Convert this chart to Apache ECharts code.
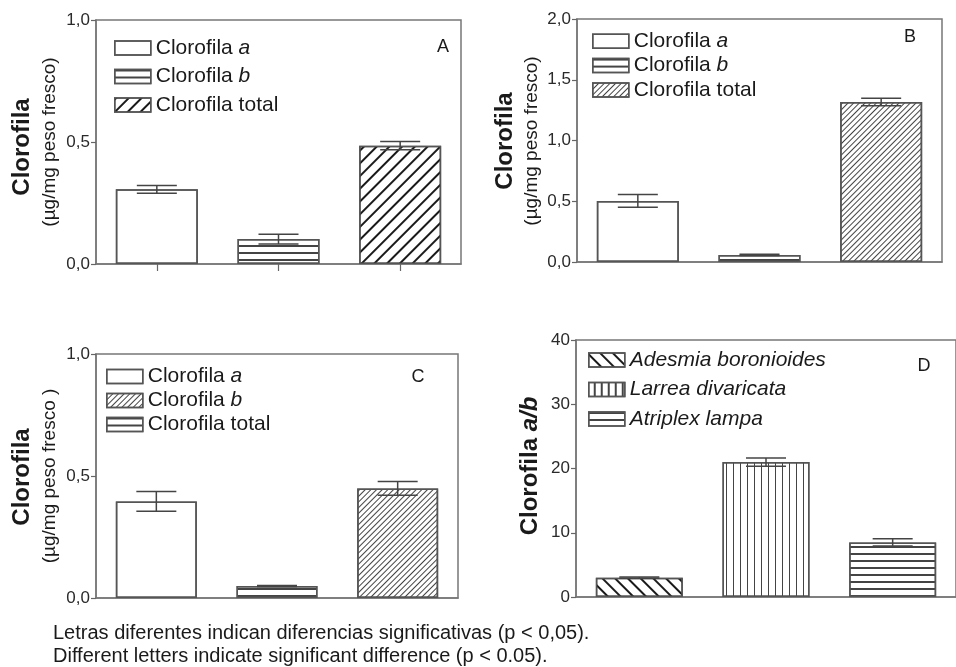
<!DOCTYPE html>
<html><head><meta charset="utf-8">
<script src="https://cdn.jsdelivr.net/npm/echarts@6/dist/echarts.min.js"></script>
<style>html,body{margin:0;padding:0;background:#fff}#c{width:956px;height:667px}</style>
</head><body><div id="c"></div>
<script>
// ---- data ----
const catKeys = ['a', 'b', 'total'];
const chlNames = ['Clorofila a', 'Clorofila b', 'Clorofila total'];
const speciesNames = ['Adesmia boronioides', 'Larrea divaricata', 'Atriplex lampa'];

const valuesA = [0.306, 0.102, 0.485];
const errorsA = [0.016, 0.020, 0.017];
const valuesB = [0.503, 0.058, 1.317];
const errorsB = [0.052, 0.005, 0.030];
const valuesC = [0.396, 0.049, 0.449];
const errorsC = [0.040, 0.002, 0.028];
const valuesD = [3.0, 21.0, 8.5];
const errorsD = [0.1, 0.65, 0.55];

const ticksChl = { min: 0, interval: 0.5 };
const ticksD = { min: 0, max: 40, interval: 10 };
const panelLetters = ['A', 'B', 'C', 'D'];
const footnotes = [
  'Letras diferentes indican diferencias significativas (p < 0,05).',
  'Different letters indicate significant difference (p < 0.05).'
];

// ---- styles ----
const FONT = "'Liberation Sans', Arial, sans-serif";
const EDGE = '#555';
const decals = {
  none: null,
  coarseFwd: { symbol: 'rect', symbolSize: 1, dashArrayX: [1, 0], dashArrayY: [2, 7], rotation: -Math.PI / 4, color: '#1a1a1a' },
  coarseBack: { symbol: 'rect', symbolSize: 1, dashArrayX: [1, 0], dashArrayY: [2, 7], rotation: Math.PI / 4, color: '#1a1a1a' },
  fineFwd: { symbol: 'rect', symbolSize: 1, dashArrayX: [1, 0], dashArrayY: [1, 2.6], rotation: -Math.PI / 4, color: '#444' },
  horiz: { symbol: 'rect', symbolSize: 1, dashArrayX: [1, 0], dashArrayY: [1.3, 4.7], rotation: 0, color: '#444' },
  vert: { symbol: 'rect', symbolSize: 1, dashArrayX: [1, 0], dashArrayY: [1.3, 4.7], rotation: Math.PI / 2, color: '#444' }
};

const panels = [
  { grid: { left: 96, top: 20, width: 365, height: 244 }, values: valuesA, errors: errorsA, names: chlNames,
    axis: { min: 0, max: 1, interval: 0.5 }, barW: 82, barDecals: ['none', 'horiz', 'coarseFwd'], legendDecals: ['none', 'horiz', 'coarseFwd'],
    legend: { left: 114, top: 37.5, gap: 7.5 }, xTicks: true, italicAll: false, dec: true },
  { grid: { left: 577, top: 19, width: 365, height: 243 }, values: valuesB, errors: errorsB, names: chlNames,
    axis: { min: 0, max: 2, interval: 0.5 }, barW: 82, barDecals: ['none', 'horiz', 'fineFwd'], legendDecals: ['none', 'horiz', 'fineFwd'],
    legend: { left: 592, top: 30.8, gap: 3.3 }, xTicks: false, italicAll: false, dec: true },
  { grid: { left: 96, top: 354, width: 362, height: 244 }, values: valuesC, errors: errorsC, names: chlNames,
    axis: { min: 0, max: 1, interval: 0.5 }, barW: 81, barDecals: ['none', 'horiz', 'fineFwd'], legendDecals: ['none', 'fineFwd', 'horiz'],
    legend: { left: 106, top: 366, gap: 3 }, xTicks: false, italicAll: false, dec: true },
  { grid: { left: 576, top: 340, width: 387, height: 257 }, values: valuesD, errors: errorsD, names: speciesNames,
    axis: ticksD, barW: 87, barDecals: ['coarseBack', 'vert', 'horiz'], legendDecals: ['coarseBack', 'vert', 'horiz'],
    legend: { left: 588, top: 349.5, gap: 8.5 }, xTicks: false, italicAll: true, dec: false }
];

const grids = [], xAxes = [], yAxes = [], series = [], legends = [];
panels.forEach((p, pi) => {
  grids.push(Object.assign({ show: true, borderColor: '#777', borderWidth: 1.5, backgroundColor: '#fff' }, p.grid));
  xAxes.push({
    type: 'category', gridIndex: pi, data: catKeys,
    axisLine: { lineStyle: { color: '#777', width: 1.5 } },
    axisTick: { show: p.xTicks, alignWithLabel: true, length: 7, lineStyle: { color: '#666', width: 1.2 } },
    axisLabel: { show: false }
  });
  yAxes.push({
    type: 'value', gridIndex: pi, min: p.axis.min, max: p.axis.max, interval: p.axis.interval,
    axisLine: { show: true, lineStyle: { color: '#777', width: 1.5 } },
    axisTick: { show: true, length: 5, lineStyle: { color: '#666', width: 1.2 } },
    splitLine: { show: false },
    axisLabel: { fontFamily: FONT, fontSize: 17, color: '#2a2a2a', margin: 6,
      formatter: v => p.dec ? v.toFixed(1).replace('.', ',') : String(v) }
  });
  p.names.forEach((nm, i) => {
    const data = catKeys.map((k, j) => (j === i ? p.values[j] : '-'));
    const dk = p.barDecals[i];
    series.push({
      type: 'bar', name: nm, xAxisIndex: pi, yAxisIndex: pi, data: data,
      barWidth: p.barW, barGap: '-100%',
      itemStyle: { color: '#fff', borderColor: EDGE, borderWidth: 1.5, decal: decals[dk] || { symbol: 'none' } },
      emphasis: { disabled: true }, silent: true
    });
  });
  series.push({
    type: 'custom', xAxisIndex: pi, yAxisIndex: pi, z: 10, silent: true,
    data: p.values.map((v, j) => [j, v - p.errors[j], v + p.errors[j]]),
    encode: { x: 0, y: [1, 2] },
    renderItem: (params, api) => {
      const x = api.value(0);
      const lo = api.coord([x, api.value(1)]);
      const hi = api.coord([x, api.value(2)]);
      const hw = 20;
      const st = { stroke: '#444', lineWidth: 1.5 };
      return { type: 'group', children: [
        { type: 'line', shape: { x1: hi[0], y1: hi[1], x2: lo[0], y2: lo[1] }, style: st },
        { type: 'line', shape: { x1: hi[0] - hw, y1: hi[1], x2: hi[0] + hw, y2: hi[1] }, style: st },
        { type: 'line', shape: { x1: lo[0] - hw, y1: lo[1], x2: lo[0] + hw, y2: lo[1] }, style: st }
      ] };
    }
  });
  legends.push({
    left: p.legend.left, top: p.legend.top, orient: 'vertical', padding: 0,
    itemGap: p.legend.gap, itemWidth: 36, itemHeight: 14, icon: 'rect', selectedMode: false,
    data: p.names.map((nm, i) => ({ name: nm, icon: 'rect',
      itemStyle: { color: '#fff', borderColor: EDGE, borderWidth: 1.5, decal: decals[p.legendDecals[i]] || { symbol: 'none' } } })),
    formatter: nm => {
      if (p.italicAll) return '{i|' + nm + '}';
      const parts = nm.split(' ');
      const last = parts.pop();
      return last === 'total' ? '{n|' + nm + '}' : '{n|' + parts.join(' ') + ' }{i|' + last + '}';
    },
    textStyle: { fontFamily: FONT, fontSize: 21, color: '#1a1a1a', lineHeight: 21,
      rich: { n: { fontFamily: FONT, fontSize: 21, color: '#1a1a1a', lineHeight: 21 },
              i: { fontFamily: FONT, fontSize: 21, color: '#1a1a1a', fontStyle: 'italic', lineHeight: 21 } } }
  });
});

function vtext(x, y, txt, size, weight, rich) {
  return { type: 'text', x: x, y: y, rotation: Math.PI / 2, silent: true,
    style: { text: txt, font: weight + ' ' + size + 'px ' + FONT, fill: '#1a1a1a', align: 'center', verticalAlign: 'middle', rich: rich } };
}
const graphics = [
  vtext(22, 147, 'Clorofila', 24, 'bold'),
  vtext(50, 142, '(µg/mg peso fresco)', 19, 'normal'),
  vtext(505, 141, 'Clorofila', 24, 'bold'),
  vtext(532, 141, '(µg/mg peso fresco)', 19, 'normal'),
  vtext(22, 477, 'Clorofila', 24, 'bold'),
  vtext(50, 476, '(µg/mg peso fresco )', 19, 'normal'),
  vtext(530, 466, '{n|Clorofila }{i|a/b}', 24, 'bold', {
    n: { fontFamily: FONT, fontSize: 24, fontWeight: 'bold', fill: '#1a1a1a' },
    i: { fontFamily: FONT, fontSize: 24, fontWeight: 'bold', fontStyle: 'italic', fill: '#1a1a1a' } })
];
const letterPos = [[443, 47], [910, 37], [418, 377], [924, 366]];
panelLetters.forEach((L, i) => graphics.push({ type: 'text', x: letterPos[i][0], y: letterPos[i][1], silent: true,
  style: { text: L, font: '18px ' + FONT, fill: '#1a1a1a', align: 'center', verticalAlign: 'middle' } }));
footnotes.forEach((t, i) => graphics.push({ type: 'text', x: 53, y: 633 + i * 23, silent: true,
  style: { text: t, font: '20px ' + FONT, fill: '#1a1a1a', align: 'left', verticalAlign: 'middle' } }));

const chart = echarts.init(document.getElementById('c'), null, { renderer: 'canvas' });
chart.setOption({
  animation: false,
  backgroundColor: '#fff',
  aria: { enabled: false },
  grid: grids, xAxis: xAxes, yAxis: yAxes, series: series, legend: legends, graphic: graphics
});
</script></body></html>
